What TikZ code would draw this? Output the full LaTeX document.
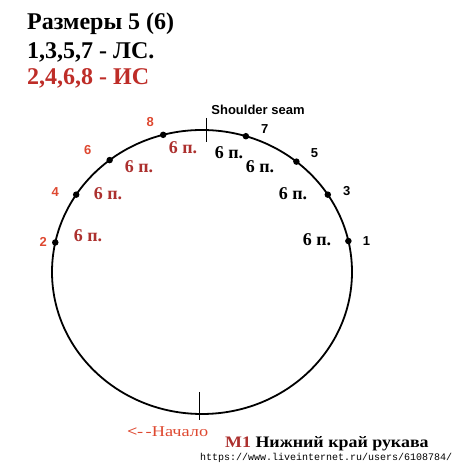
\documentclass[tikz,border=0pt]{standalone}
\usepackage{fontspec}
\setmainfont{Liberation Serif}
\setsansfont{Liberation Sans}
\setmonofont{Liberation Mono}
\newfontfamily\wideserif[FakeStretch=1.12]{Liberation Serif}
\newfontfamily\widerserif[FakeStretch=1.22]{Liberation Serif}
\usepackage{tikz}
\definecolor{titlered}{RGB}{190,45,40}
\definecolor{numred}{RGB}{222,72,48}
\definecolor{countred}{RGB}{172,48,46}
\tikzstyle{dot} = [circle, fill=black, inner sep=0pt, minimum size=6.5pt]
\tikzstyle{title} = [anchor=base west, inner sep=0pt, font=\fontsize{24}{24}\selectfont\bfseries]
\tikzstyle{num} = [inner sep=0pt, font=\fontsize{13}{13}\selectfont\sffamily\bfseries]
\tikzstyle{count} = [inner sep=0pt, font=\fontsize{18}{18}\selectfont\bfseries]
\tikzstyle{seam} = [line width=0.8pt]

\begin{document}
\begin{tikzpicture}[x=1pt,y=1pt]
		\useasboundingbox (0,0) rectangle (459,476);
		\coordinate (c) at (202,204);
		\draw [line width=1.8pt] (c) ellipse [x radius=150, y radius=142];
		
		\node (t1) [title] at (27,446) {Размеры 5 (6)};
		\node (t2) [title] at (27,417.5) {1,3,5,7 - ЛС.};
		\node (t3) [title, text=titlered] at (27,391) {2,4,6,8 - ИС};
		
		% dots and their numbers
		\foreach \a/\n/\dx/\dy/\col in {12.6/1/18/0/black, 33/3/19/4/black, 51/5/18/9/black, 73/7/19/7/black, 105/8/-13/13/numred, 128/6/-22/10/numred, 147/4/-21/3/numred, 168/2/-12/1/numred} {
			\node (d\n) [dot] at ([shift={(\a:150 and 142)}]c) {};
			\node (n\n) [num, text=\col] at ([shift={(\dx,\dy)}]d\n) {\n};
		}
		
		\node (r1) [count, text=countred] at (183,328) {6 п.};
		\node (r2) [count, text=countred] at (139,309) {6 п.};
		\node (r3) [count, text=countred] at (108,282) {6 п.};
		\node (r4) [count, text=countred] at (88,240) {6 п.};
		\node (b1) [count] at (229,323) {6 п.};
		\node (b2) [count] at (260,309) {6 п.};
		\node (b3) [count] at (293,282) {6 п.};
		\node (b4) [count] at (317,236) {6 п.};
		
		% shoulder seam and start marks
		\coordinate (st) at (206,358);
		\coordinate (sb) at (206,334);
		\draw [seam] (st) -- (sb);
		\node (seam) [inner sep=0pt, font=\fontsize{13}{13}\selectfont\sffamily\bfseries] at (258,366) {Shoulder seam};
		\coordinate (bt) at (199,84);
		\coordinate (bb) at (199,56);
		\draw [seam] (bt) -- (bb);
		
		\node (start) [anchor=base west, inner sep=0pt, text=numred, font=\fontsize{15}{15}\widerserif] at (127,39) {{\bfseries<}\kern-0.5pt-\,-Начало};
		\node (m1) [anchor=base west, inner sep=0pt, font=\fontsize{16}{16}\wideserif\bfseries] at (225,28) {\textcolor{countred}{М1} Нижний край рукава};
		\node (url) [anchor=base west, inner sep=0pt, font=\fontsize{10}{10}\selectfont\ttfamily] at (200,15) {https://www.liveinternet.ru/users/6108784/};
\end{tikzpicture}
\end{document}
